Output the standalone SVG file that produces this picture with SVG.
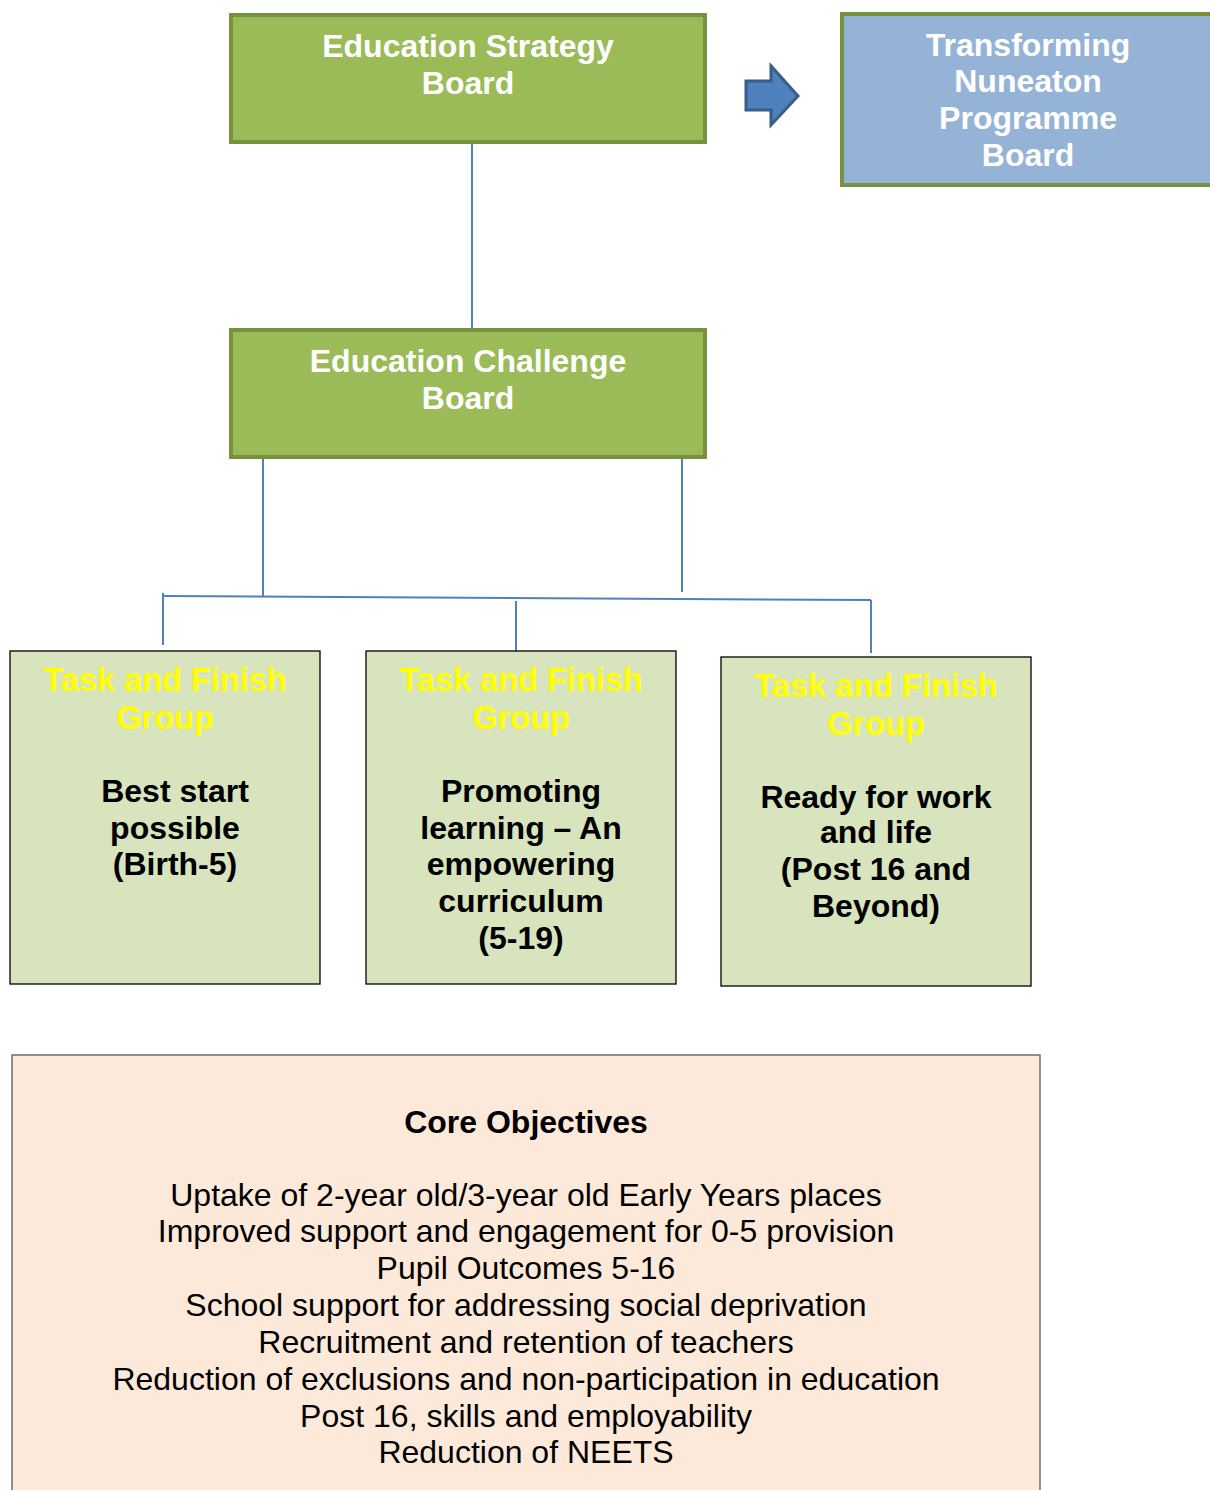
<svg xmlns="http://www.w3.org/2000/svg" width="1210" height="1490" viewBox="0 0 1210 1490">
<style>
.board{fill:#9BBB59;stroke:#76923C;stroke-width:4}
.bt{font-family:"Liberation Sans",Arial,sans-serif;font-weight:bold;font-size:32px;fill:#FFFFFF;text-anchor:middle}
.tf{fill:#D7E4BD;stroke:#000;stroke-width:1.3}
.yt{font-family:"Liberation Sans",Arial,sans-serif;font-weight:bold;font-size:32.5px;fill:#FFFF00;text-anchor:middle}
.kt{font-family:"Liberation Sans",Arial,sans-serif;font-weight:bold;font-size:32px;fill:#000;text-anchor:middle}
.ot{font-family:"Liberation Sans",Arial,sans-serif;font-size:32px;fill:#000;text-anchor:middle}
.conn{stroke:#4F81BD;stroke-width:2;fill:none}
</style>
<rect width="1210" height="1490" fill="#FFFFFF"/>
<g id="connectors">
<line class="conn" x1="472" y1="143" x2="472" y2="330"/>
<line class="conn" x1="263" y1="458" x2="263" y2="597"/>
<line class="conn" x1="682" y1="458" x2="682" y2="592"/>
<line class="conn" x1="163" y1="596" x2="871" y2="600"/>
<line class="conn" x1="163" y1="593" x2="163" y2="645"/>
<line class="conn" x1="516" y1="601" x2="516" y2="654"/>
<line class="conn" x1="871" y1="600" x2="871" y2="653"/>
</g>
<g id="strategy-board">
<rect class="board" x="231" y="15" width="474" height="127"/>
<text class="bt" x="468" y="57">Education Strategy</text>
<text class="bt" x="468" y="94">Board</text>
</g>
<g id="arrow">
<path d="M746,81 L771,81 L771,66 L798,96 L771,125 L771,110 L746,110 Z" fill="#4F81BD" stroke="#385D8A" stroke-width="3" stroke-linejoin="miter"/>
</g>
<g id="transforming-board">
<rect x="842" y="14" width="380" height="171" fill="#95B3D7" stroke="#76923C" stroke-width="4"/>
<text class="bt" x="1028" y="56">Transforming</text>
<text class="bt" x="1028" y="92">Nuneaton</text>
<text class="bt" x="1028" y="129">Programme</text>
<text class="bt" x="1028" y="166">Board</text>
</g>
<g id="challenge-board">
<rect class="board" x="231" y="330" width="474" height="127"/>
<text class="bt" x="468" y="372">Education Challenge</text>
<text class="bt" x="468" y="409">Board</text>
</g>
<g id="group-best-start">
<rect class="tf" x="10" y="651" width="310" height="333"/>
<text class="yt" x="165" y="691">Task and Finish</text>
<text class="yt" x="165" y="729">Group</text>
<text class="kt" x="175" y="802">Best start</text>
<text class="kt" x="175" y="839">possible</text>
<text class="kt" x="175" y="875">(Birth-5)</text>
</g>
<g id="group-promoting-learning">
<rect class="tf" x="366" y="651" width="310" height="333"/>
<text class="yt" x="521" y="691">Task and Finish</text>
<text class="yt" x="521" y="729">Group</text>
<text class="kt" x="521" y="802">Promoting</text>
<text class="kt" x="521" y="839">learning – An</text>
<text class="kt" x="521" y="875">empowering</text>
<text class="kt" x="521" y="912">curriculum</text>
<text class="kt" x="521" y="949">(5-19)</text>
</g>
<g id="group-ready-for-work">
<rect class="tf" x="721" y="657" width="310" height="329"/>
<text class="yt" x="876" y="697">Task and Finish</text>
<text class="yt" x="876" y="735">Group</text>
<text class="kt" x="876" y="808">Ready for work</text>
<text class="kt" x="876" y="843">and life</text>
<text class="kt" x="876" y="880">(Post 16 and</text>
<text class="kt" x="876" y="917">Beyond)</text>
</g>
<g id="core-objectives">
<rect x="12" y="1055" width="1028" height="450" fill="#FDE9D9" stroke="#595959" stroke-width="1.3"/>
<text class="kt" x="526" y="1133">Core Objectives</text>
<text class="ot" x="526" y="1206">Uptake of 2-year old/3-year old Early Years places</text>
<text class="ot" x="526" y="1242">Improved support and engagement for 0-5 provision</text>
<text class="ot" x="526" y="1279">Pupil Outcomes 5-16</text>
<text class="ot" x="526" y="1316">School support for addressing social deprivation</text>
<text class="ot" x="526" y="1353">Recruitment and retention of teachers</text>
<text class="ot" x="526" y="1390">Reduction of exclusions and non-participation in education</text>
<text class="ot" x="526" y="1427">Post 16, skills and employability</text>
<text class="ot" x="526" y="1463">Reduction of NEETS</text>
</g>
</svg>
